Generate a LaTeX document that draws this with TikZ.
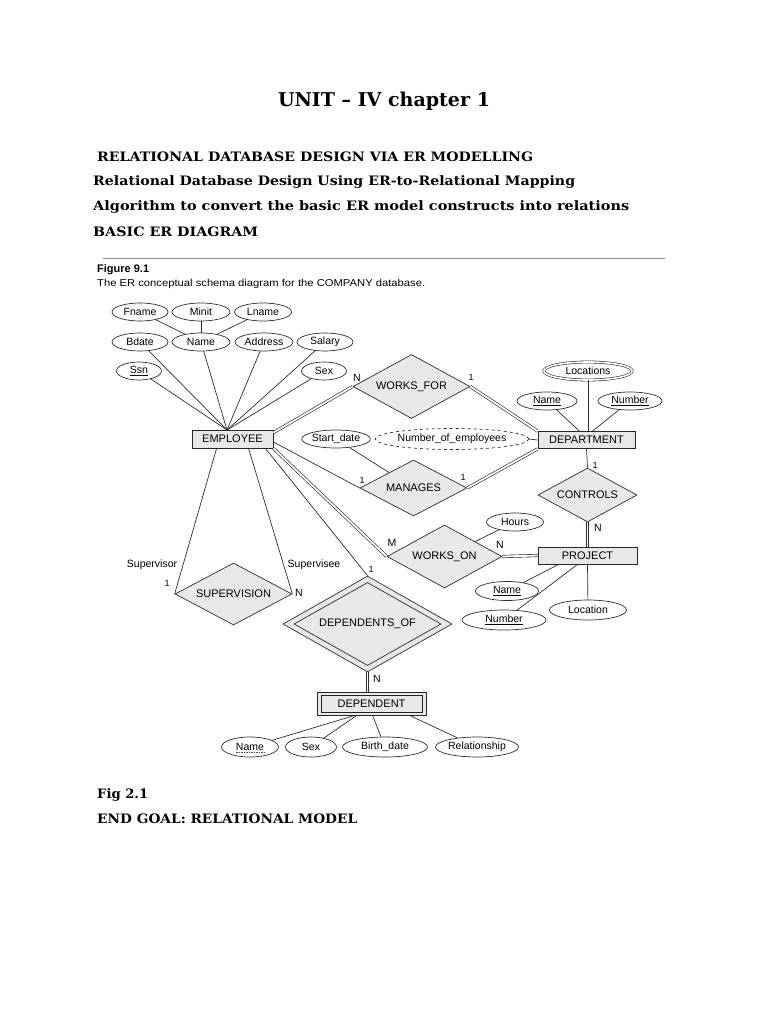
\documentclass[tikz,border=0pt]{standalone}
\usepackage{fontspec}
\usepackage{graphicx}
\setmainfont{DejaVu Serif}
\newfontfamily\dsans{Liberation Sans}
\usetikzlibrary{shapes.geometric,calc}
\newcommand\fitto[2]{\setbox0=\hbox{#2}\pgfmathsetmacro\myfw{#1/\the\wd0}\scalebox{\myfw}[1]{\box0}}
\begin{document}
\begin{tikzpicture}[x=1pt,y=-1pt,
 ln/.style={draw=black!82, line width=0.7pt},
 dl/.style={draw=black!82, line width=0.65pt, double=white, double distance=1.8pt},
 attr/.style={ellipse, draw=black!82, line width=0.7pt, fill=white, inner sep=0pt, minimum height=18pt, font=\dsans\fontsize{10.5}{12}\selectfont},
 ent/.style={rectangle, draw=black!85, line width=0.85pt, fill=black!9, inner sep=0pt, font=\dsans\fontsize{11}{13}\selectfont},
 rel/.style={diamond, aspect=2, draw=black!82, line width=0.7pt, fill=black!9, inner sep=0pt, font=\dsans\fontsize{11}{13}\selectfont},
 lbl/.style={inner sep=0pt, font=\dsans\fontsize{10.5}{12}\selectfont},
 sm/.style={inner sep=0pt, font=\dsans\fontsize{9}{10}\selectfont},
 hd/.style={anchor=west, inner sep=0pt, font=\bfseries\fontsize{13}{16}\selectfont}
]
\useasboundingbox (0,0) rectangle (768,1024);
\fill[white] (0,0) rectangle (768,1024);

% headings
\node[inner sep=0pt, font=\bfseries\fontsize{19}{23}\selectfont] (title) at (384,101) {\fitto{212}{UNIT – IV chapter 1}};
\node[hd] (h1) at (97,157) {\fitto{436}{RELATIONAL DATABASE DESIGN VIA ER MODELLING}};
\node[hd] (h2) at (93,182) {\fitto{482}{Relational Database Design Using ER-to-Relational Mapping}};
\node[hd] (h3) at (93,207) {\fitto{536}{Algorithm to convert the basic ER model constructs into relations}};
\node[hd] (h4) at (93,232) {\fitto{165}{BASIC ER DIAGRAM}};
\node[hd] (f1) at (97,795) {\fitto{51}{Fig 2.1}};
\node[hd] (f2) at (97,819) {\fitto{260}{END GOAL: RELATIONAL MODEL}};

\draw[black!45, line width=0.8pt] (103,258) -- (665,258);
\node[anchor=west, inner sep=0pt, font=\dsans\bfseries\fontsize{11}{13}\selectfont] (fig) at (97,270) {Figure 9.1};
\node[anchor=west, inner sep=0pt, font=\dsans\fontsize{10}{12}\selectfont] (cap) at (97,284) {\fitto{328}{The ER conceptual schema diagram for the COMPANY database.}};

% employee attributes
\node[attr, minimum width=56pt] (fname) at (140,312) {Fname};
\node[attr, minimum width=58pt] (minit) at (201,312) {Minit};
\node[attr, minimum width=57pt] (lname) at (263,312) {Lname};
\node[attr, minimum width=56pt] (bdate) at (140,342) {Bdate};
\node[attr, minimum width=58pt] (ename) at (201,342) {Name};
\node[attr, minimum width=58pt] (addr) at (264,342) {Address};
\node[attr, minimum width=56pt] (salary) at (325,342) {Salary};
\node[attr, minimum width=45pt] (ssn) at (139,371) {\underline{Ssn}};
\node[attr, minimum width=45pt] (esex) at (324,371) {Sex};
\node[ent, minimum width=81pt, minimum height=18pt] (emp) at (232.5,439) {EMPLOYEE};
\coordinate (ec) at (227,430);

% relationships and entities
\node[rel, minimum width=117pt, minimum height=64pt] (wf) at (411.5,386.5) {WORKS\_FOR};
\node[ent, minimum width=97pt, minimum height=17pt] (dept) at (586.5,440) {DEPARTMENT};
\node[attr, minimum width=88pt, minimum height=18pt, double=white, double distance=1.6pt, line width=0.6pt] (loc) at (588,371) {Locations};
\node[attr, minimum width=60pt] (dname) at (547,401) {\underline{Name}};
\node[attr, minimum width=64pt] (dnum) at (630,401) {\underline{Number}};
\node[attr, dashed, minimum width=132pt, minimum height=21pt] (nemp) at (452,439) {Number\_of\_employees};
\node[attr, minimum width=62pt] (sdate) at (336,439) {Start\_date};
\node[rel, minimum width=107pt, minimum height=56pt] (man) at (413.5,488) {MANAGES};
\node[rel, minimum width=99pt, minimum height=54pt] (ctl) at (587.5,495) {CONTROLS};
\node[ent, minimum width=99pt, minimum height=17pt] (proj) at (587.5,555.5) {PROJECT};
\node[rel, minimum width=115pt, minimum height=63pt] (wo) at (444.5,556.5) {WORKS\_ON};
\node[attr, minimum width=57pt] (hours) at (515,522) {Hours};
\node[attr, minimum width=63pt, minimum height=19pt] (pname) at (507,591) {\underline{Name}};
\node[attr, minimum width=84pt, minimum height=20pt] (pnum) at (504,620) {\underline{Number}};
\node[attr, minimum width=77pt, minimum height=20pt] (ploc) at (588,610) {Location};
\node[rel, minimum width=117pt, minimum height=62pt] (sup) at (233.5,594) {SUPERVISION};
\node[rel, minimum width=169pt, minimum height=96pt] (depof) at (367.5,624) {};
\node[rel, minimum width=147pt, minimum height=83pt] (depofin) at (367.5,624) {DEPENDENTS\_OF};
\node[ent, minimum width=109pt, minimum height=23pt] (dep) at (371.5,703.5) {};
\node[ent, minimum width=101pt, minimum height=17pt, line width=0.7pt] (depin) at (371.5,703.5) {DEPENDENT};
\node[attr, minimum width=57pt, minimum height=20pt] (dpname) at (250,747) {Name};
\draw[black!70, dash pattern=on 1.5pt off 1pt, line width=0.5pt] ($(dpname)+(-14,5)$) -- ($(dpname)+(14,5)$);
\node[attr, minimum width=51pt, minimum height=20pt] (dsex) at (311,747) {Sex};
\node[attr, minimum width=85pt, minimum height=20pt] (dbirth) at (385,747) {Birth\_date};
\node[attr, minimum width=83pt, minimum height=20pt] (drel) at (477,747) {Relationship};

% connectors
\draw[ln] (fname) -- (ename);
\draw[ln] (minit) -- (ename);
\draw[ln] (lname) -- (ename);
\foreach \a in {bdate,ename,addr,salary,ssn,esex} \draw[ln] (\a) -- (ec);
\draw[dl] ($(emp.north east)+(0,3)$) -- (wf.west);
\draw[dl] (wf.east) -- (dept.north west);
\draw[ln] ($(emp.east)+(0,3)$) -- (man.west);
\draw[dl] (man.east) -- (dept.south west);
\draw[ln] (nemp.east) -- (dept.west);
\draw[ln] (loc) -- (loc |- dept.north);
\draw[ln] (dname) -- ($(dept.north)+(-7,0)$);
\draw[ln] (dnum) -- ($(dept.north)+(6,0)$);
\draw[ln] (sdate) -- (man);
\draw[ln] (dept.south) -- (ctl.north);
\draw[dl] (ctl.south) -- (proj.north);
\draw[dl] (emp.south east) -- (wo.west);
\draw[dl] (wo.east) -- (proj.west);
\draw[ln] (hours) -- (wo);
\draw[ln] ($(proj.south)+(-29,0)$) -- (pname);
\draw[ln] ($(proj.south)+(-10,0)$) -- (pnum);
\draw[ln] (proj.south) -- (ploc);
\draw[ln] ($(emp.south west)+(25,0)$) -- (sup.west);
\draw[ln] ($(emp.south west)+(57,0)$) -- (sup.east);
\draw[ln] ($(emp.south east)+(-8,0)$) -- (depof.north);
\draw[dl] (depof.south) -- (depof.south |- dep.north);
\draw[ln] ($(dep.south west)+(38,0)$) -- (dpname);
\draw[ln] ($(dep.south west)+(40,0)$) -- (dsex);
\draw[ln] ($(dep.south west)+(56,0)$) -- (dbirth);
\draw[ln] ($(dep.south west)+(93,0)$) -- (drel);

% labels
\node[lbl] (lwf1) at (357,378) {N};
\node[sm] (lwf2) at (471,377) {1};
\node[sm] (lm1) at (362,480) {1};
\node[sm] (lm2) at (463,477) {1};
\node[sm] (lc1) at (595,465) {1};
\node[lbl] (lc2) at (598,528) {N};
\node[lbl] (lwo1) at (392,543) {M};
\node[lbl] (lwo2) at (500,545) {N};
\node[lbl] (lsv1) at (152,565) {Supervisor};
\node[sm] (lsv2) at (167,583) {1};
\node[lbl] (lse1) at (314,565) {Supervisee};
\node[lbl] (lse2) at (299,593) {N};
\node[sm] (ld1) at (371,569) {1};
\node[lbl] (ld2) at (377,679) {N};
\end{tikzpicture}
\end{document}
